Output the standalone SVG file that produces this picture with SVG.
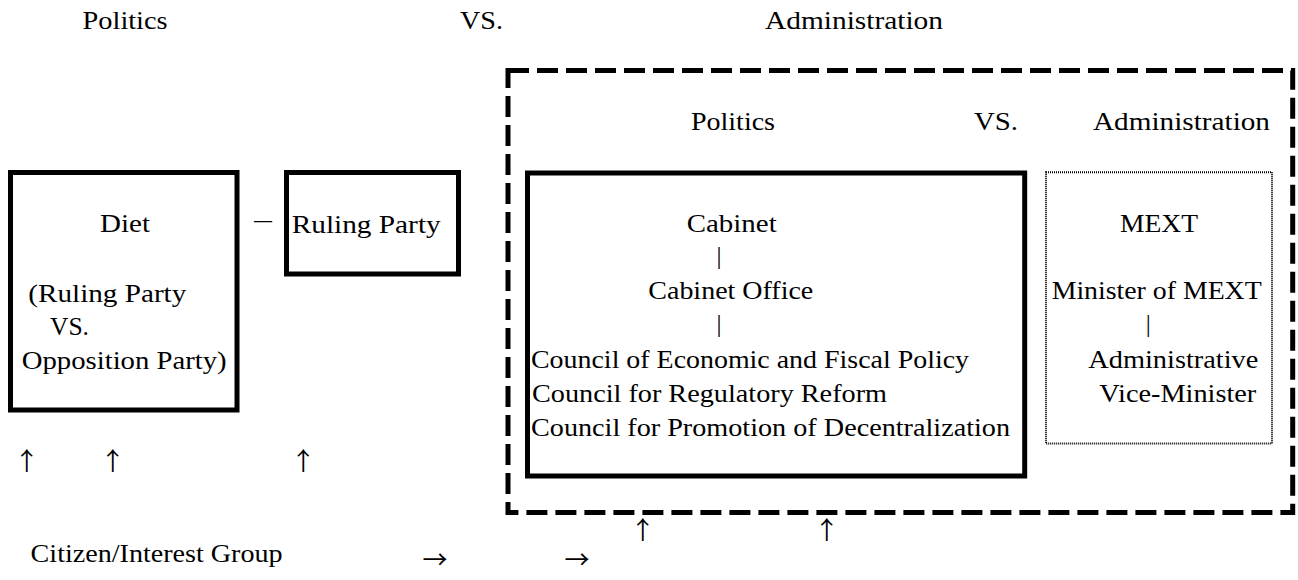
<svg xmlns="http://www.w3.org/2000/svg" width="1298" height="580" viewBox="0 0 1298 580" font-family="'Liberation Serif', serif" font-size="25">
  <style>
    text { font-family: "Liberation Serif", "Times New Roman", serif; font-size: 25px; fill: #000; }
    .solid { fill: none; stroke: #000; stroke-width: 5; }
    .dashed { fill: none; stroke: #000; stroke-width: 5; stroke-dasharray: 21 8; }
    .dotted { fill: none; stroke: #000; stroke-width: 2; stroke-dasharray: 1 1; }
    .bar { text-anchor: middle; }
    .arrow { font-family: "Noto Sans CJK JP", "Liberation Serif", sans-serif; text-anchor: middle; }
  </style>
  <rect width="1298" height="580" fill="#fff"/>

  <!-- heading row -->
  <g id="heading">
    <text x="82.6" y="28.5" textLength="85" lengthAdjust="spacingAndGlyphs">Politics</text>
    <text x="460" y="28.5" textLength="43" lengthAdjust="spacingAndGlyphs">VS.</text>
    <text x="765" y="28.5" textLength="178" lengthAdjust="spacingAndGlyphs">Administration</text>
  </g>

  <!-- executive frame (dashed) -->
  <g id="executive">
    <rect class="dashed" x="508" y="70.5" width="784.7" height="442"/>
    <text x="691" y="130" textLength="84" lengthAdjust="spacingAndGlyphs">Politics</text>
    <text x="974" y="130" textLength="44" lengthAdjust="spacingAndGlyphs">VS.</text>
    <text x="1093" y="130" textLength="177" lengthAdjust="spacingAndGlyphs">Administration</text>
  </g>

  <!-- Diet -->
  <g id="diet">
    <rect class="solid" x="10.5" y="172.5" width="226.5" height="237.5"/>
    <text x="100" y="231.7" textLength="50" lengthAdjust="spacingAndGlyphs">Diet</text>
    <text x="28.3" y="301.7" textLength="158" lengthAdjust="spacingAndGlyphs">(Ruling Party</text>
    <text x="50" y="335" textLength="39" lengthAdjust="spacingAndGlyphs">VS.</text>
    <text x="21.7" y="369.3" textLength="205" lengthAdjust="spacingAndGlyphs">Opposition Party)</text>
  </g>

  <!-- Ruling Party -->
  <g id="ruling-party">
    <rect class="solid" x="286.5" y="172.5" width="172" height="101.5"/>
    <text x="291.7" y="232.7" textLength="149" lengthAdjust="spacingAndGlyphs">Ruling Party</text>
  </g>

  <!-- Cabinet -->
  <g id="cabinet">
    <rect class="solid" x="527.5" y="173" width="497.2" height="303"/>
    <text x="686.7" y="232" textLength="90" lengthAdjust="spacingAndGlyphs">Cabinet</text>
    <text x="719" y="264" class="bar">|</text>
    <text x="648.3" y="299" textLength="165" lengthAdjust="spacingAndGlyphs">Cabinet Office</text>
    <text x="719" y="331.5" class="bar">|</text>
    <text x="531" y="368" textLength="438" lengthAdjust="spacingAndGlyphs">Council of Economic and Fiscal Policy</text>
    <text x="532" y="402" textLength="355" lengthAdjust="spacingAndGlyphs">Council for Regulatory Reform</text>
    <text x="531" y="436" textLength="479" lengthAdjust="spacingAndGlyphs">Council for Promotion of Decentralization</text>
  </g>

  <!-- MEXT -->
  <g id="mext">
    <rect class="dotted" x="1046" y="172.3" width="226" height="271.2"/>
    <text x="1120" y="232" textLength="78" lengthAdjust="spacingAndGlyphs">MEXT</text>
    <text x="1051.7" y="298.5" textLength="210" lengthAdjust="spacingAndGlyphs">Minister of MEXT</text>
    <text x="1148.3" y="332" class="bar">|</text>
    <text x="1088.3" y="368" textLength="170" lengthAdjust="spacingAndGlyphs">Administrative</text>
    <text x="1099.3" y="402" textLength="157" lengthAdjust="spacingAndGlyphs">Vice-Minister</text>
  </g>

  <!-- Citizen / Interest Group -->
  <g id="citizen">
    <text x="30.6" y="562" textLength="252" lengthAdjust="spacingAndGlyphs">Citizen/Interest Group</text>
  </g>

  <!-- connectors (printed as characters) -->
  <g id="connectors">
    <text x="254" y="228" textLength="18" lengthAdjust="spacingAndGlyphs">—</text>
    <text x="26.7" y="470" class="arrow">↑</text>
    <text x="112.7" y="470" class="arrow">↑</text>
    <text x="303.3" y="470" class="arrow">↑</text>
    <text x="642.7" y="539" class="arrow">↑</text>
    <text x="826.7" y="539" class="arrow">↑</text>
    <text x="435" y="569" class="arrow">→</text>
    <text x="577" y="569" class="arrow">→</text>
  </g>
</svg>
